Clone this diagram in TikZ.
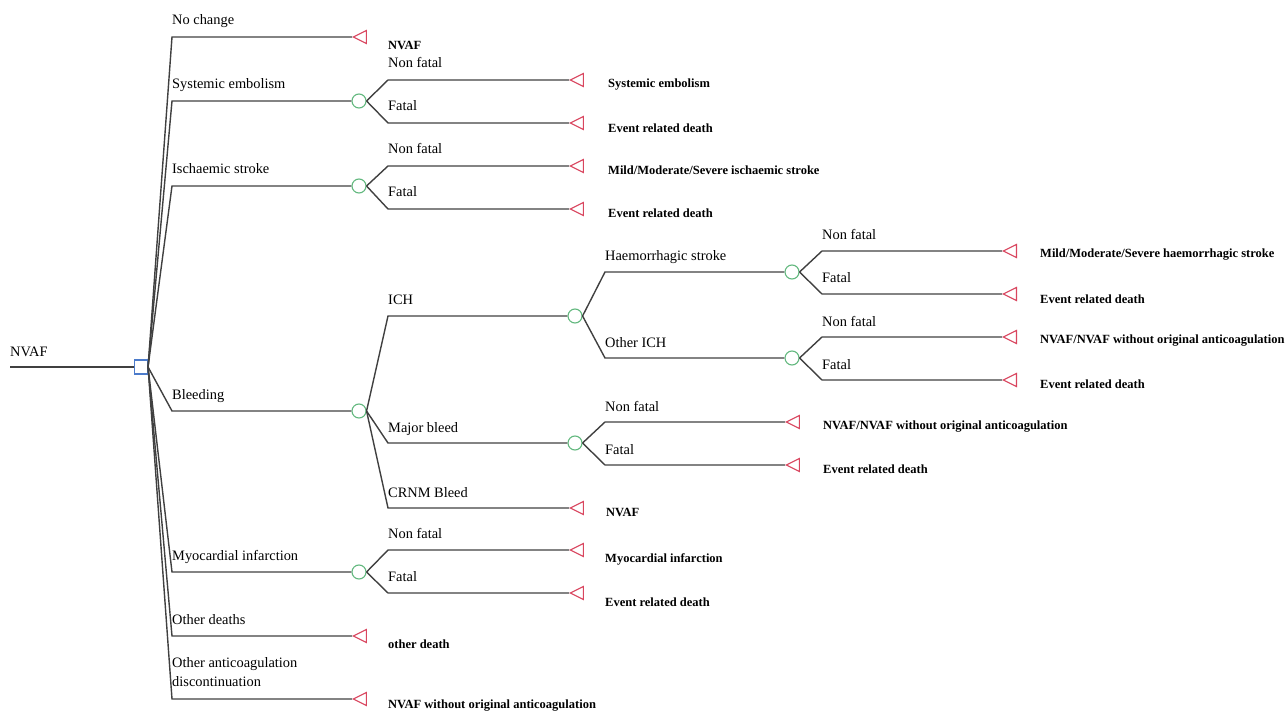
\documentclass[tikz,border=0pt]{standalone}
\usepackage{fontspec}
\setmainfont{Liberation Serif}
\usetikzlibrary{shapes.geometric}
\definecolor{edgegray}{HTML}{404040}
\definecolor{decblue}{HTML}{4C7BCB}
\definecolor{chancegreen}{HTML}{62B87E}
\definecolor{termred}{HTML}{D9465F}
\tikzset{
  edge/.style={draw=edgegray,line width=1.4pt},
  decision/.style={draw=decblue,line width=1.1pt,fill=white,minimum width=13pt,minimum height=14pt,inner sep=0pt},
  chance/.style={circle,draw=chancegreen,line width=1.1pt,fill=white,minimum size=14pt,inner sep=0pt},
  terminal/.style={isosceles triangle,isosceles triangle stretches,shape border rotate=180,draw=termred,line width=1.1pt,
    minimum width=13pt,minimum height=13pt,inner sep=0pt,anchor=apex},
  branchlabel/.style={anchor=base west,inner sep=0pt,font=\fontsize{14.4}{19}\selectfont},
  outcome/.style={anchor=west,inner sep=0pt,yshift=-2pt,font=\bfseries\fontsize{12.5}{15}\selectfont}
}
\begin{document}
\begin{tikzpicture}[x=1pt,y=-1pt]
\useasboundingbox (0,0) rectangle (1287,711);
% root and decision
\coordinate (root) at (10,367);
\node[decision] (dec) at (141,367) {};
\draw[edge] (root)--(dec);
\node[branchlabel] (rootL) at (10,356) {NVAF};
% first level
\coordinate (nc) at (172,37);
\coordinate (se) at (172,101);
\coordinate (is) at (172,186);
\coordinate (bl) at (172,411);
\coordinate (mi) at (172,572);
\coordinate (od) at (172,636);
\coordinate (oa) at (172,699);
\node[terminal] (ncT) at (352,37) {};
\node[chance] (seC) at (359,101) {};
\node[chance] (isC) at (359,186) {};
\node[chance] (blC) at (359,411) {};
\node[chance] (miC) at (359,572) {};
\node[terminal] (odT) at (352,636) {};
\node[terminal] (oaT) at (352,699) {};
\foreach \a/\b in {nc/ncT,se/seC,is/isC,bl/blC,mi/miC,od/odT,oa/oaT}
  \draw[edge] (dec.east)--(\a)--(\b);
\node[branchlabel] (ncL) at (172,25) {No change};
\node[branchlabel] (seL) at (172,89) {Systemic embolism};
\node[branchlabel] (isL) at (172,174) {Ischaemic stroke};
\node[branchlabel] (blL) at (172,399) {Bleeding};
\node[branchlabel] (miL) at (172,560) {Myocardial infarction};
\node[branchlabel] (odL) at (172,624) {Other deaths};
\node[branchlabel,align=left] (oaL) at (172,686) {Other anticoagulation\\discontinuation};
\node[outcome] (ncO) at (388,43) {NVAF};
\node[outcome] (odO) at (388,642) {other death};
\node[outcome] (oaO) at (388,704) {NVAF without original anticoagulation};
% systemic embolism
\coordinate (seNF) at (388,80);
\coordinate (seF) at (388,123);
\node[terminal] (seNFT) at (569,80) {};
\node[terminal] (seFT) at (569,123) {};
\draw[edge] (seC.east)--(seNF)--(seNFT);
\draw[edge] (seC.east)--(seF)--(seFT);
\node[branchlabel] (seNFL) at (388,68) {Non fatal};
\node[branchlabel] (seFL) at (388,111) {Fatal};
\node[outcome] (seNFO) at (608,83) {Systemic embolism};
\node[outcome] (seFO) at (608,126) {Event related death};
% ischaemic stroke
\coordinate (isNF) at (388,166);
\coordinate (isF) at (388,209);
\node[terminal] (isNFT) at (569,166) {};
\node[terminal] (isFT) at (569,209) {};
\draw[edge] (isC.east)--(isNF)--(isNFT);
\draw[edge] (isC.east)--(isF)--(isFT);
\node[branchlabel] (isNFL) at (388,154) {Non fatal};
\node[branchlabel] (isFL) at (388,197) {Fatal};
\node[outcome] (isNFO) at (608,168) {Mild/Moderate/Severe ischaemic stroke};
\node[outcome] (isFO) at (608,211) {Event related death};
% bleeding
\coordinate (ich) at (388,316);
\coordinate (mb) at (388,443);
\coordinate (cr) at (388,508);
\node[chance] (ichC) at (575,316) {};
\node[chance] (mbC) at (575,443) {};
\node[terminal] (crT) at (569,508) {};
\draw[edge] (blC.east)--(ich)--(ichC);
\draw[edge] (blC.east)--(mb)--(mbC);
\draw[edge] (blC.east)--(cr)--(crT);
\node[branchlabel] (ichL) at (388,304) {ICH};
\node[branchlabel] (mbL) at (388,432) {Major bleed};
\node[branchlabel] (crL) at (388,497) {CRNM Bleed};
\node[outcome] (crO) at (606,510) {NVAF};
% ICH
\coordinate (hs) at (605,272);
\coordinate (oi) at (605,358);
\node[chance] (hsC) at (792,272) {};
\node[chance] (oiC) at (792,358) {};
\draw[edge] (ichC.east)--(hs)--(hsC);
\draw[edge] (ichC.east)--(oi)--(oiC);
\node[branchlabel] (hsL) at (605,261) {Haemorrhagic stroke};
\node[branchlabel] (oiL) at (605,347) {Other ICH};
% haemorrhagic stroke
\coordinate (hsNF) at (822,251);
\coordinate (hsF) at (822,294);
\node[terminal] (hsNFT) at (1002,251) {};
\node[terminal] (hsFT) at (1002,294) {};
\draw[edge] (hsC.east)--(hsNF)--(hsNFT);
\draw[edge] (hsC.east)--(hsF)--(hsFT);
\node[branchlabel] (hsNFL) at (822,240) {Non fatal};
\node[branchlabel] (hsFL) at (822,283) {Fatal};
\node[outcome] (hsNFO) at (1040,253) {Mild/Moderate/Severe haemorrhagic stroke};
\node[outcome] (hsFO) at (1040,297) {Event related death};
% other ICH
\coordinate (oiNF) at (822,337);
\coordinate (oiF) at (822,380);
\node[terminal] (oiNFT) at (1002,337) {};
\node[terminal] (oiFT) at (1002,380) {};
\draw[edge] (oiC.east)--(oiNF)--(oiNFT);
\draw[edge] (oiC.east)--(oiF)--(oiFT);
\node[branchlabel] (oiNFL) at (822,326) {Non fatal};
\node[branchlabel] (oiFL) at (822,369) {Fatal};
\node[outcome] (oiNFO) at (1040,339) {NVAF/NVAF without original anticoagulation};
\node[outcome] (oiFO) at (1040,382) {Event related death};
% major bleed
\coordinate (mbNF) at (605,422);
\coordinate (mbF) at (605,465);
\node[terminal] (mbNFT) at (785,422) {};
\node[terminal] (mbFT) at (785,465) {};
\draw[edge] (mbC.east)--(mbNF)--(mbNFT);
\draw[edge] (mbC.east)--(mbF)--(mbFT);
\node[branchlabel] (mbNFL) at (605,411) {Non fatal};
\node[branchlabel] (mbFL) at (605,454) {Fatal};
\node[outcome] (mbNFO) at (823,425) {NVAF/NVAF without original anticoagulation};
\node[outcome] (mbFO) at (823,467) {Event related death};
% myocardial infarction
\coordinate (miNF) at (388,550);
\coordinate (miF) at (388,593);
\node[terminal] (miNFT) at (569,550) {};
\node[terminal] (miFT) at (569,593) {};
\draw[edge] (miC.east)--(miNF)--(miNFT);
\draw[edge] (miC.east)--(miF)--(miFT);
\node[branchlabel] (miNFL) at (388,538) {Non fatal};
\node[branchlabel] (miFL) at (388,581) {Fatal};
\node[outcome] (miNFO) at (605,557) {Myocardial infarction};
\node[outcome] (miFO) at (605,600) {Event related death};
\end{tikzpicture}
\end{document}
